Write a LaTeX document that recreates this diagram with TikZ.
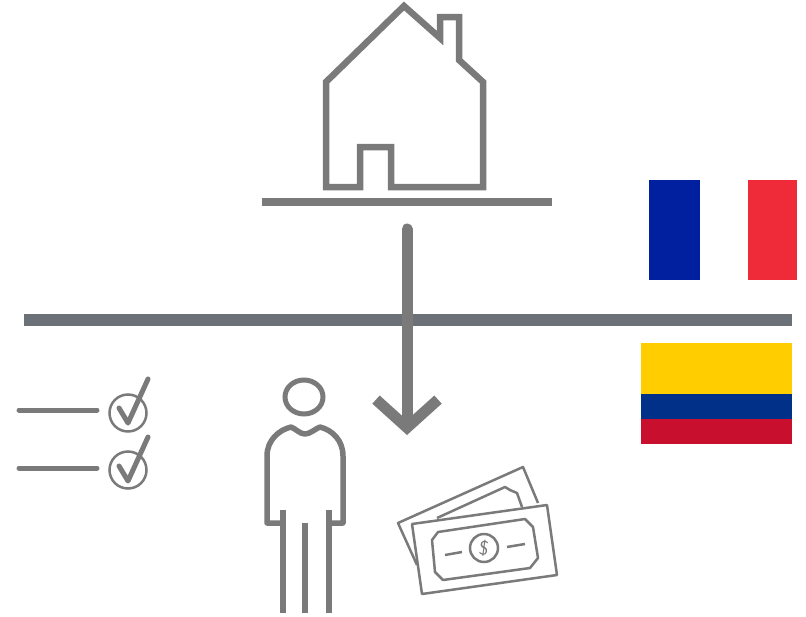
\documentclass[tikz,border=0pt]{standalone}
\usepackage{tikz}
\usetikzlibrary{arrows.meta}
\definecolor{icongray}{HTML}{7A7A7A}
\definecolor{bargray}{HTML}{6C7077}
\definecolor{frblue}{HTML}{00209F}
\definecolor{frred}{HTML}{EF2B3A}
\definecolor{coyellow}{HTML}{FFCD00}
\definecolor{coblue}{HTML}{003087}
\definecolor{cored}{HTML}{C8102E}
\tikzset{
  stripe/.style={rectangle, inner sep=0pt, outer sep=0pt},
  icon/.style={draw=icongray, line width=#1},
  icon/.default=5pt
}

\begin{document}
\begin{tikzpicture}[x=1pt, y=-1pt]
    \useasboundingbox (0,0) rectangle (806,616);

    % House
    \draw[icon=6.5pt, miter limit=3] (375,147) -- (360,147) -- (360,187) -- (326,187) -- (326,82) -- (404,6) -- (440,38)
        -- (440,17) -- (459,17) -- (459,60) -- (483,82) -- (483,187) -- (391,187) -- (391,147) -- cycle;
    \draw[icon=8pt] (262,202) -- (552,202);

    % Horizontal bar
    \coordinate (BAR_L) at (24,320);
    \coordinate (BAR_R) at (792,320);
    \draw[draw=bargray, line width=12pt] (BAR_L) -- (BAR_R);

    % Arrow
    \coordinate (ARROW_S) at (407,229);
    \coordinate (ARROW_E) at (407,435);
    \draw[icon=11pt, line cap=round, -{Straight Barb[length=28pt, width=62pt]}] (ARROW_S) -- (ARROW_E);

    % Checklist
    \foreach \y/\c in {410/413, 468/470} {
        \draw[icon=5pt, line cap=round] (19,\y) -- (97,\y);
        \draw[icon=2.5pt] (128,\c) circle (18.5);
        \draw[icon=5pt, line cap=round, line join=round] (119,\y-2) -- (128,\y+13) -- (148,\y-31);
    }

    % Person
    \draw[icon=5pt] (304,397) ellipse (19 and 17);
    \draw[icon=5.5pt] (283,510) -- (283,613);
    \draw[icon=5.5pt] (329,510) -- (329,613);
    \draw[icon=5.5pt] (305,523) -- (305,613);
    \draw[icon=5.5pt, line join=round] (283,523) -- (267,523) -- (267,456)
        .. controls (267,440) and (279,430) .. (291,427)
        .. controls (296,429) and (300,434) .. (305,434)
        .. controls (310,434) and (315,429) .. (320,427)
        .. controls (332,430) and (343,440) .. (343,456)
        -- (343,523) -- (329,523);

    % Banknotes
    \draw[icon=2.5pt, line join=round] (417,565) -- (398,523) -- (523,467) -- (538,503);
    \draw[icon=2.5pt, line join=round] (437,518) -- (505,487) -- (510,490) -- (517,493) -- (522,507);
    \draw[icon=2.5pt, line join=round] (412,524) -- (547,505) -- (557,575) -- (422,594) -- cycle;
    \draw[icon=2.5pt, line join=round] (432,540) -- (438,532) -- (525,519) -- (533,527)
        -- (538,558) -- (530,568) -- (443,580) -- (435,572) -- cycle;
    \draw[icon=2.5pt] (484,548) circle (14);
    \draw[icon=2.5pt] (445,555) -- (462,552);
    \draw[icon=2.5pt] (507,547) -- (525,544);
    \node[text=icongray, font=\sffamily\fontsize{20}{20}\selectfont, rotate=-8, inner sep=0pt] (DOLLAR) at (484,548) {\$};

    % France
    \node[stripe, fill=frblue, minimum width=51pt, minimum height=100pt, anchor=north west] (FR_B) at (649,180) {};
    \node[stripe, fill=frred, minimum width=49pt, minimum height=100pt, anchor=north west] (FR_R) at (748,180) {};

    % Colombia
    \node[stripe, fill=coyellow, minimum width=151pt, minimum height=51pt, anchor=north west] (CO_Y) at (641,343) {};
    \node[stripe, fill=coblue, minimum width=151pt, minimum height=25pt, anchor=north west] (CO_B) at (641,394) {};
    \node[stripe, fill=cored, minimum width=151pt, minimum height=25pt, anchor=north west] (CO_R) at (641,419) {};
\end{tikzpicture}
\end{document}
